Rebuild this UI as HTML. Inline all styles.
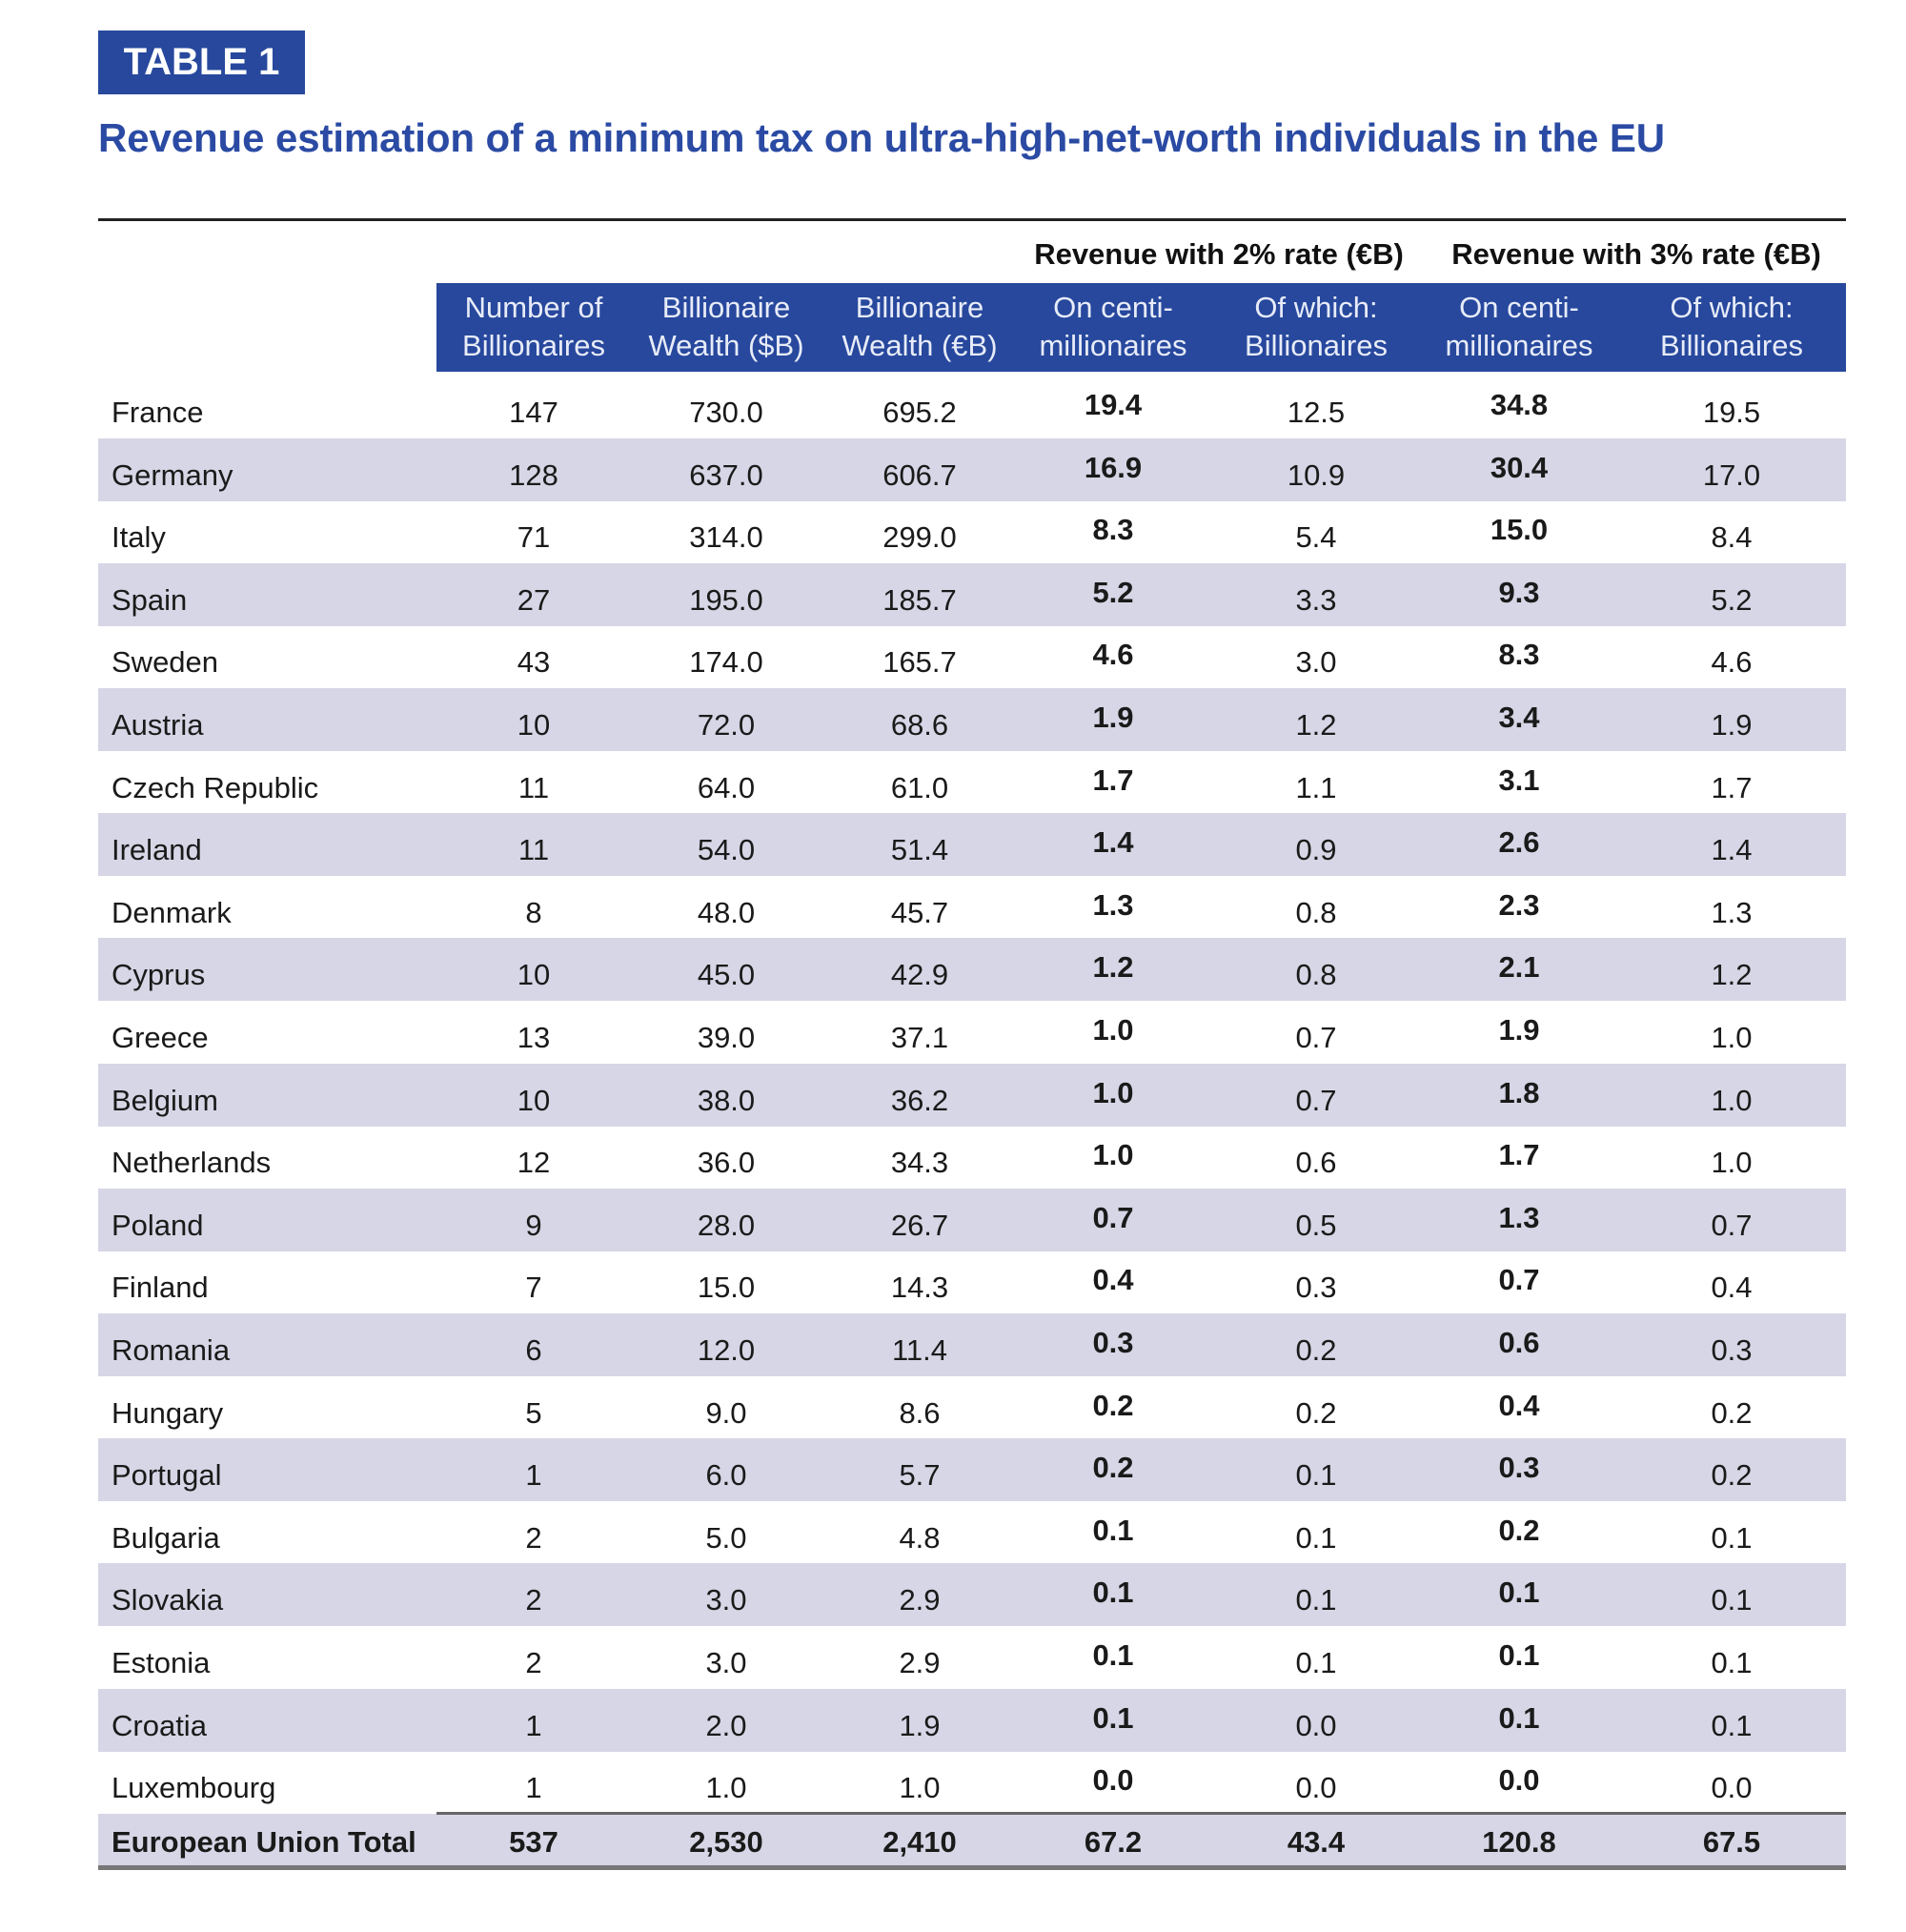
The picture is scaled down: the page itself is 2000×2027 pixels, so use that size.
<!DOCTYPE html>
<html><head><meta charset="utf-8"><style>
body{margin:0;width:2000px;height:2027px;background:#fff;position:relative;font-family:"Liberation Sans",sans-serif;overflow:hidden}
.a{position:absolute}
.tag{left:103px;top:32px;width:217px;height:67px;background:#27489d;color:#fff;font-weight:bold;font-size:40px;line-height:67px;text-align:center}
.title{left:103px;top:121px;font-size:42px;font-weight:bold;color:#2a4aa3;white-space:nowrap;letter-spacing:-0.1px}
.rule{left:103px;top:229px;width:1834px;height:3px;background:#222}
.grp{top:249px;font-size:31px;font-weight:bold;color:#111;text-align:center;width:430px}
.hdr{left:458px;top:297px;width:1479px;height:93px;background:#27489d}
.hc{top:303px;width:210px;text-align:center;color:#e8ecf8;font-size:31px;line-height:40px}
.row{left:103px;width:1834px;height:66px}
.s{background:#d6d6e6}
.c{font-size:31px;color:#1a1a1a;text-align:center;width:200px;line-height:66px;padding-top:6px}
.n{font-size:31px;color:#1a1a1a;left:117px;line-height:66px;padding-top:6px}
.b{font-weight:bold;margin-top:-8px}
</style></head><body>
<div class="a tag">TABLE 1</div>
<div class="a title">Revenue estimation of a minimum tax on ultra-high-net-worth individuals in the EU</div>
<div class="a rule"></div>
<div class="a grp" style="left:1064px">Revenue with 2% rate (€B)</div>
<div class="a grp" style="left:1502px">Revenue with 3% rate (€B)</div>
<div class="a hdr"></div>
<div class="a hc" style="left:455px">Number of<br>Billionaires</div>
<div class="a hc" style="left:657px">Billionaire<br>Wealth ($B)</div>
<div class="a hc" style="left:860px">Billionaire<br>Wealth (€B)</div>
<div class="a hc" style="left:1063px">On centi-<br>millionaires</div>
<div class="a hc" style="left:1276px">Of which:<br>Billionaires</div>
<div class="a hc" style="left:1489px">On centi-<br>millionaires</div>
<div class="a hc" style="left:1712px">Of which:<br>Billionaires</div>
<div id="t"></div>
<script>
var d=[["France",147,"730.0","695.2","19.4","12.5","34.8","19.5"],["Germany",128,"637.0","606.7","16.9","10.9","30.4","17.0"],["Italy",71,"314.0","299.0","8.3","5.4","15.0","8.4"],["Spain",27,"195.0","185.7","5.2","3.3","9.3","5.2"],["Sweden",43,"174.0","165.7","4.6","3.0","8.3","4.6"],["Austria",10,"72.0","68.6","1.9","1.2","3.4","1.9"],["Czech Republic",11,"64.0","61.0","1.7","1.1","3.1","1.7"],["Ireland",11,"54.0","51.4","1.4","0.9","2.6","1.4"],["Denmark",8,"48.0","45.7","1.3","0.8","2.3","1.3"],["Cyprus",10,"45.0","42.9","1.2","0.8","2.1","1.2"],["Greece",13,"39.0","37.1","1.0","0.7","1.9","1.0"],["Belgium",10,"38.0","36.2","1.0","0.7","1.8","1.0"],["Netherlands",12,"36.0","34.3","1.0","0.6","1.7","1.0"],["Poland",9,"28.0","26.7","0.7","0.5","1.3","0.7"],["Finland",7,"15.0","14.3","0.4","0.3","0.7","0.4"],["Romania",6,"12.0","11.4","0.3","0.2","0.6","0.3"],["Hungary",5,"9.0","8.6","0.2","0.2","0.4","0.2"],["Portugal",1,"6.0","5.7","0.2","0.1","0.3","0.2"],["Bulgaria",2,"5.0","4.8","0.1","0.1","0.2","0.1"],["Slovakia",2,"3.0","2.9","0.1","0.1","0.1","0.1"],["Estonia",2,"3.0","2.9","0.1","0.1","0.1","0.1"],["Croatia",1,"2.0","1.9","0.1","0.0","0.1","0.1"],["Luxembourg",1,"1.0","1.0","0.0","0.0","0.0","0.0"]];
var cx=[560,762,965,1168,1381,1594,1817],h="";
d.forEach(function(r,i){var y=Math.round(394+i*65.6);
h+='<div class="a row'+(i%2?' s':'')+'" style="top:'+y+'px"></div>';
h+='<div class="a n" style="top:'+y+'px">'+r[0]+'</div>';
for(var j=1;j<8;j++)h+='<div class="a c'+((j==4||j==6)?' b':'')+'" style="top:'+y+'px;left:'+(cx[j-1]-100)+'px">'+r[j]+'</div>';});
h+='<div class="a s" style="left:103px;top:1903px;width:1834px;height:55px"></div>';
h+='<div class="a" style="left:458px;top:1901px;width:1479px;height:3px;background:#666"></div>';
h+='<div class="a" style="left:103px;top:1957px;width:1834px;height:5px;background:#777"></div>';
h+='<div class="a n" style="top:1903px;line-height:55px;padding-top:2px;font-weight:bold">European Union Total</div>';
var t=["537","2,530","2,410","67.2","43.4","120.8","67.5"];
for(var j=0;j<7;j++)h+='<div class="a c" style="top:1903px;line-height:55px;padding-top:2px;font-weight:bold;left:'+(cx[j]-100)+'px">'+t[j]+'</div>';
document.getElementById("t").innerHTML=h;
</script>
</body></html>
